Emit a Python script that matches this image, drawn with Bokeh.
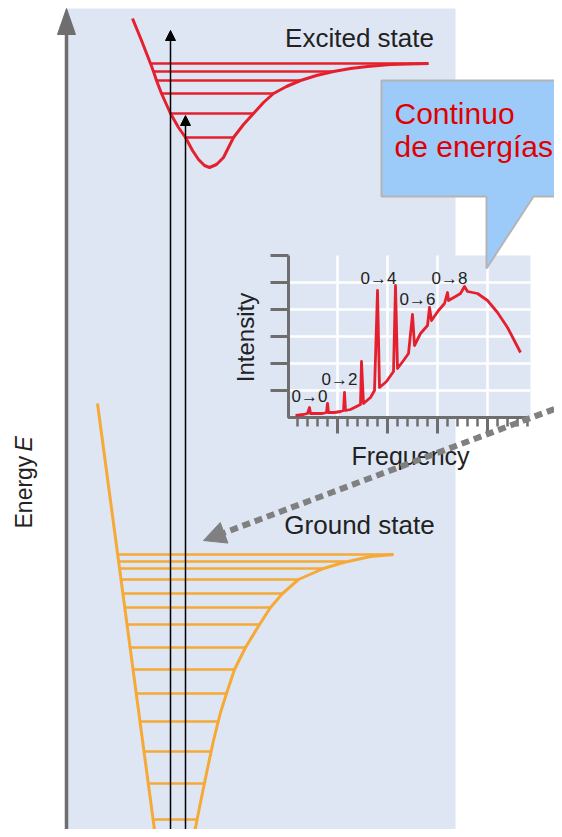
from bokeh.plotting import figure
from bokeh.models import Range1d, Arrow, NormalHead
from bokeh.embed import file_html
from bokeh.resources import INLINE
from bokeh.core.properties import value
import math

FONT = "Liberation Sans"
RED = "#e5202e"
ORANGE = "#f5a936"
PANEL = "#dee6f4"
GRAY = "#6e6e6e"
TXT = "#222222"

# ---- Excited state potential curve (red) ----
exc_x = [132, 141, 150, 153, 156, 161, 170, 178, 185, 192, 198, 204, 209,
         216, 223, 233, 243, 253, 263, 273, 286, 300, 316, 333, 350, 367, 390, 428]
exc_y = [18, 40, 63, 71, 80, 93, 113, 127, 137, 150, 159, 165, 167,
         164, 157, 137, 124, 113, 102, 93, 86, 80, 75, 71, 68, 66, 64, 63]
exc_lvl_y = [63, 71, 80, 93, 113, 137]
exc_lvl_x0 = [150, 153, 156, 161, 170, 185]
exc_lvl_x1 = [428, 333, 300, 273, 253, 233]

# ---- Ground state potential curve (orange) ----
gnd_left_x = [97, 155]
gnd_left_y = [403, 837]
gnd_right_x = [393, 370, 343, 323, 298, 282, 270, 259, 245, 234, 227, 220, 213, 207, 201, 196, 193]
gnd_right_y = [554, 556, 562, 568, 579, 593, 607, 624, 647, 669, 690, 712, 740, 768, 797, 822, 837]
gnd_lvl_y = [554, 561, 568, 579, 593, 607, 624, 647, 669, 693, 721, 751, 783, 819]
gnd_lvl_x0 = [117, 118, 119, 120, 122, 124, 126, 129, 132, 135, 139, 143, 147, 152]
gnd_lvl_x1 = [393, 345, 323, 297, 282, 270, 259, 245, 234, 226, 217, 210, 204, 197]

# ---- Vertical transitions ----
trans_x = [170, 185]
trans_top = [30, 115]
trans_bottom = [837, 837]

# ---- Inset absorption spectrum ----
spec_x = [295, 303, 307, 309, 310, 316, 322, 326, 327, 328, 334, 340, 343, 344, 345,
          350, 356, 360, 361, 363, 370, 374, 377, 379, 386, 393, 395, 397, 403, 408,
          412, 414, 420, 427, 429, 431, 438, 444, 447, 448, 455, 460, 464, 467, 477,
          487, 497, 507, 520]
spec_y = [415, 414, 413, 407, 413, 413, 413, 412, 403, 412, 412, 411, 410, 392, 410,
          409, 406, 404, 361, 403, 397, 390, 290, 387, 381, 371, 285, 368, 360, 353,
          314, 345, 333, 325, 307, 320, 310, 303, 292, 300, 296, 293, 286, 291, 293,
          300, 312, 327, 352]
peak_labels = ["0\u21920", "0\u21922", "0\u21924", "0\u21926", "0\u21928"]
peak_lab_x = [309, 339, 378, 417, 449]
peak_lab_y = [396, 379, 278, 299, 278]

inset_grid_y = [282, 309, 336, 363, 390]
inset_grid_x = [337, 387, 437, 487]
inset_ytick_y = [255, 282, 309, 336, 363, 390]
inset_xminor = [x for x in range(297, 528, 10) if x not in (337, 387, 437, 487)]
inset_xmajor = [337, 387, 437, 487]

p = figure(width=554, height=829, x_range=Range1d(0, 554), y_range=Range1d(829, 0),
           x_axis_type=None, y_axis_type=None, output_backend="svg",
           toolbar_location=None, min_border=0)
p.grid.visible = False
p.outline_line_color = None
p.background_fill_color = "white"
p.border_fill_color = "white"

# panels
p.quad(left=[66], right=[455], top=[8], bottom=[837], fill_color=PANEL, line_color=None)
p.quad(left=[288], right=[530], top=[255], bottom=[417], fill_color=PANEL, line_color=None)

# inset grid
p.segment(x0=[288] * 5, x1=[530] * 5, y0=inset_grid_y, y1=inset_grid_y, line_color="white", line_width=2.5)
p.segment(x0=inset_grid_x, x1=inset_grid_x, y0=[255] * 4, y1=[417] * 4, line_color="white", line_width=2.5)

# inset axes
p.line([288, 288, 527], [255, 417, 417], line_color=GRAY, line_width=3)
p.segment(x0=[270] * 6, x1=[288] * 6, y0=inset_ytick_y, y1=inset_ytick_y, line_color=GRAY, line_width=3)
p.segment(x0=inset_xminor, x1=inset_xminor, y0=[417] * len(inset_xminor), y1=[426] * len(inset_xminor),
          line_color=GRAY, line_width=2.5)
p.segment(x0=inset_xmajor, x1=inset_xmajor, y0=[417] * 4, y1=[433] * 4, line_color=GRAY, line_width=3)

# spectrum
p.line(spec_x, spec_y, line_color=RED, line_width=2.8, line_join="round")
p.text(x=peak_lab_x, y=peak_lab_y, text=peak_labels, text_font=value(FONT), text_font_size="17px",
       text_color=TXT, text_align="center", text_baseline="middle")

p.text(x=[410], y=[455], text=["Frequency"], text_font=value(FONT), text_font_size="25px",
       text_color=TXT, text_align="center", text_baseline="middle")
p.text(x=[245], y=[337], text=["Intensity"], angle=math.pi / 2, text_font=value(FONT),
       text_font_size="24px", text_color=TXT, text_align="center", text_baseline="middle")

# excited state
p.line(exc_x, exc_y, line_color=RED, line_width=3, line_join="round")
p.segment(x0=exc_lvl_x0, x1=exc_lvl_x1, y0=exc_lvl_y, y1=exc_lvl_y, line_color=RED, line_width=2.5)

# ground state
p.line(gnd_left_x, gnd_left_y, line_color=ORANGE, line_width=3)
p.line(gnd_right_x, gnd_right_y, line_color=ORANGE, line_width=3, line_join="round")
p.segment(x0=gnd_lvl_x0, x1=gnd_lvl_x1, y0=gnd_lvl_y, y1=gnd_lvl_y, line_color=ORANGE, line_width=2.5)

# transitions
for tx, tt, tb in zip(trans_x, trans_top, trans_bottom):
    p.add_layout(Arrow(x_start=tx, y_start=tb, x_end=tx, y_end=tt, line_color="black", line_width=1.5,
                       end=NormalHead(size=10, fill_color="black", line_color="black")))

# energy axis
p.line([66, 66], [837, 30], line_color=GRAY, line_width=3.5)
p.patch([57, 66, 75], [34, 8, 34], fill_color=GRAY, line_color=GRAY)
p.text(x=[23], y=[528], text=["Energy "], angle=math.pi / 2, text_font=value(FONT),
       text_font_size="23px", text_color=TXT, text_align="left", text_baseline="middle")
p.text(x=[23], y=[451], text=["E"], angle=math.pi / 2, text_font=value(FONT), text_font_style="italic",
       text_font_size="23px", text_color=TXT, text_align="left", text_baseline="middle")

# state labels
p.text(x=[359, 359], y=[37, 524], text=["Excited state", "Ground state"], text_font=value(FONT),
       text_font_size="26px", text_color=TXT, text_align="center", text_baseline="middle")

# callout
p.patch([381, 570, 570, 533, 486, 486, 381], [80, 80, 196, 196, 268, 196, 196],
        fill_color="#9ccbfa", line_color="#b4b4b4", line_width=2)
p.text(x=[394, 394], y=[113, 146], text=["Continuo", "de energías"], text_font=value(FONT),
       text_font_size="30px", text_color="#e00000", text_align="left", text_baseline="middle")

# dashed pointer arrow
p.add_layout(Arrow(x_start=566, y_start=404, x_end=203, y_end=540, line_color="#808080", line_width=6,
                   line_dash="8 5",
                   end=NormalHead(size=22, fill_color="#808080", line_color="#808080", line_width=1)))

open("out.html", "w").write(file_html(p, INLINE))
